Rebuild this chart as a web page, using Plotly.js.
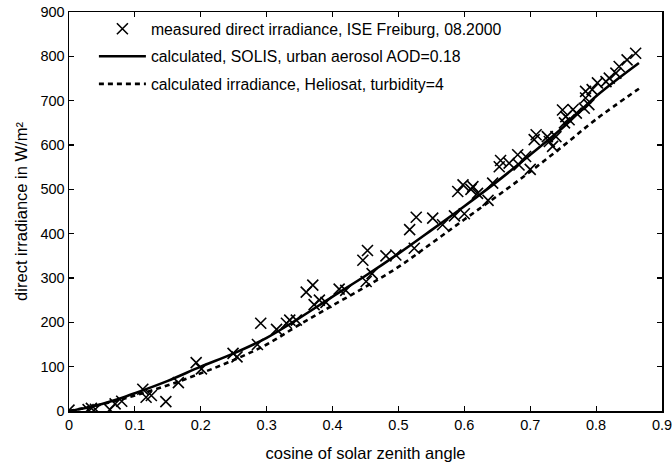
<!DOCTYPE html>
<html>
<head>
<meta charset="utf-8">
<script src="https://cdn.plot.ly/plotly-3.0.1.min.js"></script>
<style>html,body{margin:0;padding:0;background:#fff;}#chart{width:672px;height:463px;}</style>
</head>
<body>
<div id="chart"></div>
<script>
// measured direct irradiance (cos zenith, W/m2)
const measuredX = [0.0,0.029,0.034,0.04,0.062,0.07,0.08,0.112,0.117,0.125,0.147,0.166,0.193,0.201,0.249,0.255,0.286,0.291,0.315,0.33,0.335,0.345,0.36,0.37,0.372,0.38,0.39,0.41,0.42,0.446,0.451,0.453,0.46,0.481,0.496,0.517,0.524,0.527,0.552,0.567,0.585,0.59,0.598,0.6,0.61,0.613,0.62,0.636,0.643,0.653,0.655,0.668,0.681,0.683,0.693,0.70,0.706,0.709,0.726,0.729,0.734,0.739,0.749,0.752,0.754,0.759,0.765,0.77,0.782,0.784,0.784,0.789,0.794,0.802,0.815,0.82,0.83,0.835,0.847,0.86];
const measuredY = [2,3,6,4,3,16,22,49,31,35,21,64,109,95,130,122,150,198,184,198,205,205,268,284,240,250,245,275,272,340,292,362,310,350,352,409,367,437,435,420,440,495,510,445,500,506,491,475,514,551,565,559,578,555,574,545,612,623,619,608,597,619,679,650,664,657,680,672,683,721,706,691,725,740,743,751,762,777,792,807];
// SOLIS calculation
const solisX = [0,0.025,0.05,0.075,0.1,0.15,0.2,0.25,0.3,0.35,0.4,0.45,0.5,0.55,0.6,0.65,0.7,0.75,0.8,0.865];
const solisY = [0,7,16,27,40,68,100,130,165,210,258,305,355,408,462,518,578,640,710,785];
// Heliosat calculation
const helioX = [0,0.05,0.1,0.15,0.2,0.25,0.3,0.35,0.4,0.45,0.5,0.55,0.6,0.65,0.7,0.75,0.8,0.865];
const helioY = [0,15,35,58,85,115,150,195,238,280,325,378,432,485,540,598,658,727];
const xTicks = [0,0.1,0.2,0.3,0.4,0.5,0.6,0.7,0.8,0.9];
const yTicks = [0,100,200,300,400,500,600,700,800,900];

const fam = '"Liberation Sans", Arial, sans-serif';
const tickFont = {family: fam, size: 14.5, color: '#000'};
const titleFont = {family: fam, size: 16.5, color: '#000'};
const legendFont = {family: fam, size: 15.8, color: '#000'};

const traces = [
  {x: measuredX, y: measuredY, mode: 'markers', type: 'scatter',
   name: 'measured direct irradiance, ISE Freiburg, 08.2000', legendgroup: 'a',
   marker: {symbol: 'x-thin-open', size: 11, color: '#000', line: {width: 1.6, color: '#000'}}},
  {x: solisX, y: solisY, mode: 'lines', type: 'scatter', line: {shape: 'spline', color: '#000', width: 2.6},
   name: 'calculated, SOLIS, urban aerosol AOD=0.18', legendgroup: 'b'},
  {x: helioX, y: helioY, mode: 'lines', type: 'scatter', line: {shape: 'spline', color: '#000', width: 2.6, dash: '5px,4px'},
   name: 'calculated irradiance, Heliosat, turbidity=4', legendgroup: 'c'}
];

const axisCommon = {showgrid: false, zeroline: false, showline: true, linecolor: '#000', linewidth: 1.5,
  mirror: 'ticks', ticks: 'inside', ticklen: 5, tickwidth: 1.2, tickcolor: '#000', tickfont: tickFont,
  ticklabeloverflow: 'allow', automargin: false};

const layout = {
  width: 672, height: 463,
  margin: {l: 69, r: 10, t: 12, b: 52},
  paper_bgcolor: '#fff', plot_bgcolor: '#fff',
  font: tickFont,
  showlegend: true,
  legend: {x: 0.042, y: 1.0, xanchor: 'left', yanchor: 'top', bgcolor: 'rgba(0,0,0,0)',
           font: legendFont, traceorder: 'grouped', tracegroupgap: 4, itemwidth: 47},
  xaxis: Object.assign({}, axisCommon, {range: [0, 0.9], tickvals: xTicks, ticktext: xTicks.map(String),
           title: {text: 'cosine of solar zenith angle', font: titleFont, standoff: 15}}),
  yaxis: Object.assign({}, axisCommon, {range: [0, 900], tickvals: yTicks, ticktext: yTicks.map(String),
           title: {text: 'direct irradiance in W/m²', font: titleFont, standoff: 8}})
};

Plotly.newPlot('chart', traces, layout, {staticPlot: true, displayModeBar: false});
</script>
</body>
</html>
